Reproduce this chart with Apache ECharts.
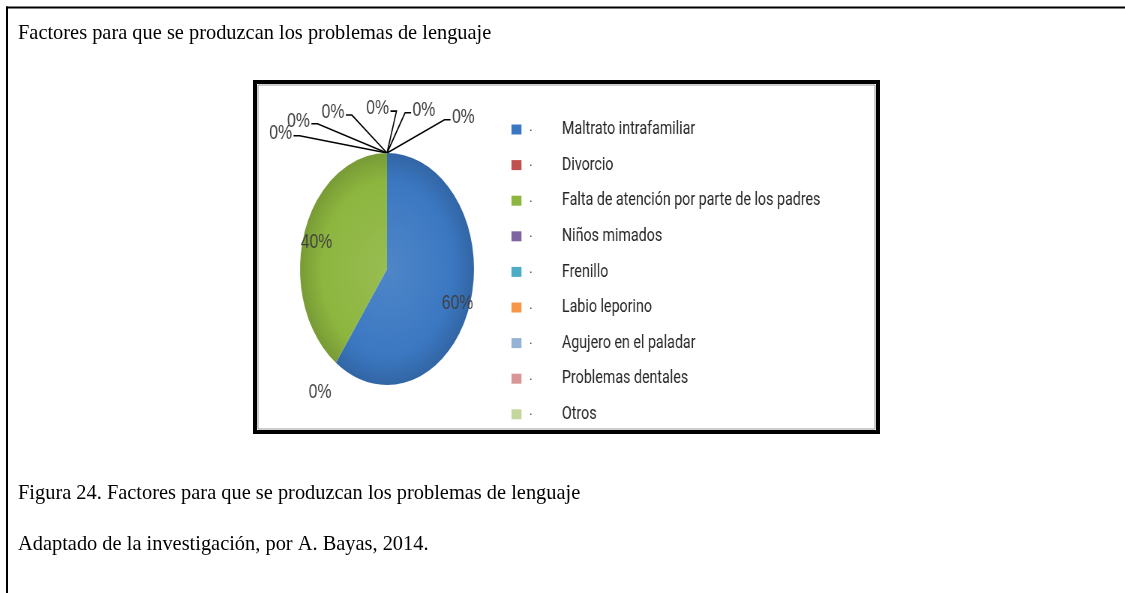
<!DOCTYPE html>
<html>
<head>
<meta charset="utf-8">
<script src="https://cdn.jsdelivr.net/npm/echarts@6/dist/echarts.min.js"></script>
<style>
  html, body { margin: 0; padding: 0; background: #fff; }
  #main { position: absolute; left: 0; top: 0; width: 1125px; height: 593px; }
  /* the original is an Excel 3D pie drawn as an ellipse with narrow (Calibri) text:
     squeeze the whole chart box horizontally */
  #box { position: absolute; left: 258px; top: 84px; width: 824px; height: 346px;
         transform: scaleX(0.75); transform-origin: 0 0; }
</style>
</head>
<body>
<div id="main"></div>
<div id="box"></div>
<script>
// data
const factores = [
  'Maltrato intrafamiliar',
  'Divorcio',
  'Falta de atención por parte de los padres',
  'Niños mimados',
  'Frenillo',
  'Labio leporino',
  'Agujero en el paladar',
  'Problemas dentales',
  'Otros'
];
const porcentajes = [60, 0, 40, 0, 0, 0, 0, 0, 0];
const colores = ['#3B78C2', '#C0504D', '#8DB63F', '#8064A2', '#4BACC6', '#F79646', '#95B3D7', '#D99694', '#C3D69B'];

const titulo = 'Factores para que se produzcan los problemas de lenguaje';
const pieFigura = 'Figura 24. Factores para que se produzcan los problemas de lenguaje';
const fuente = 'Adaptado de la investigación, por A. Bayas, 2014.';

const serif = "'Liberation Serif', 'DejaVu Serif', serif";

// page: frame and the text lines around the chart box
const main = echarts.init(document.getElementById('main'));
main.setOption({
  animation: false,
  backgroundColor: '#fff',
  graphic: [
    { type: 'line', shape: { x1: 6, y1: 7.5, x2: 1125, y2: 7.5 }, style: { stroke: '#000', lineWidth: 2 } },
    { type: 'line', shape: { x1: 7, y1: 6.5, x2: 7, y2: 593 }, style: { stroke: '#000', lineWidth: 2 } },
    { type: 'rect', shape: { x: 255, y: 82, width: 623, height: 350 }, style: { fill: '#fff', stroke: '#000', lineWidth: 4 } },
    { type: 'rect', shape: { x: 258, y: 85, width: 617, height: 344 }, style: { fill: null, stroke: '#999', lineWidth: 1 } },
    { type: 'text', style: { x: 18, y: 34, text: titulo, font: `20.4px ${serif}`, fill: '#000', verticalAlign: 'middle' } },
    { type: 'text', style: { x: 18, y: 494, text: pieFigura, font: `20.4px ${serif}`, fill: '#000', verticalAlign: 'middle' } },
    { type: 'text', style: { x: 18, y: 545, text: fuente, font: `20.4px ${serif}`, fill: '#000', verticalAlign: 'middle' } }
  ]
});

// chart box (coordinates below are in the un-squeezed space)
const cx = 172, cy = 185, R = 116;
const total = porcentajes.reduce((a, b) => a + b, 0);
let acc = 0;
const angulos = porcentajes.map((v) => {
  const a = (acc + v / 2) / total * 360;
  acc += v;
  return a;
});
// zero slices that share the same edge get their labels fanned out
const grupos = {};
porcentajes.forEach((v, i) => {
  if (v === 0) {
    const k = Math.round(angulos[i]);
    (grupos[k] = grupos[k] || []).push(i);
  }
});
const grupoDe = {};
Object.values(grupos).forEach((g) => g.forEach((i, j) => { grupoDe[i] = { n: g.length, j }; }));

function shade(hex, f) {
  const n = parseInt(hex.slice(1), 16);
  const c = [(n >> 16) & 255, (n >> 8) & 255, n & 255].map((x) =>
    Math.max(0, Math.min(255, Math.round(f > 0 ? x + (255 - x) * f : x * (1 + f)))));
  return `rgb(${c.join(',')})`;
}
function relleno(hex) {
  return {
    type: 'radial', x: cx, y: cy, r: R, global: true,
    colorStops: [
      { offset: 0, color: shade(hex, 0.1) },
      { offset: 0.75, color: hex },
      { offset: 1, color: shade(hex, -0.15) }
    ]
  };
}

const box = echarts.init(document.getElementById('box'));
box.setOption({
  animation: false,
  legend: {
    orient: 'vertical',
    left: 333,
    top: 31,
    itemWidth: 13.3,
    itemHeight: 10,
    itemGap: 16.6,
    icon: 'rect',
    selectedMode: false,
    data: factores.map((name, i) => ({ name, itemStyle: { color: colores[i] } })),
    formatter: (name) => `{dot|·}{name|${name}}`,
    textStyle: {
      rich: {
        dot: { width: 44, padding: [0, 0, 0, 5], fontSize: 15, color: '#404040', lineHeight: 20 },
        name: { fontFamily: 'Roboto, sans-serif', fontSize: 19, color: '#262626', lineHeight: 20 }
      }
    }
  },
  series: [
    {
      type: 'pie',
      center: [cx, cy],
      radius: R,
      startAngle: 90,
      clockwise: true,
      silent: true,
      percentPrecision: 0,
      data: factores.map((name, i) => ({
        name,
        value: porcentajes[i],
        itemStyle: { color: relleno(colores[i]) },
        label: { position: porcentajes[i] > 0 ? 'inside' : 'outside' },
        labelLine: { show: porcentajes[i] === 0 && grupoDe[i].n > 1 }
      })),
      label: {
        formatter: '{d}%',
        fontFamily: "'Liberation Sans', Arial, sans-serif",
        fontSize: 21,
        color: '#404040',
        overflow: 'none'
      },
      labelLine: { length: 15, length2: 15, lineStyle: { color: '#000', width: 1.6 } },
      labelLayout: (params) => {
        const i = params.dataIndex;
        const r = params.labelRect;
        if (porcentajes[i] > 0) {
          // inside labels sit further out than the mid radius
          const lx = r.x + r.width / 2, ly = r.y + r.height / 2;
          return { dx: (lx - cx) * 0.62, dy: (ly - cy) * 0.62 + 4 };
        }
        const a = angulos[i] * Math.PI / 180;
        const px = cx + R * Math.sin(a), py = cy - R * Math.cos(a);
        const g = grupoDe[i];
        if (g.n === 1) {
          return { x: px + 36 * Math.sin(a), y: py - 36 * Math.cos(a), align: 'center', verticalAlign: 'middle' };
        }
        const t = (-80 + g.j * 125 / (g.n - 1)) * Math.PI / 180;
        const x = px + 144 * Math.sin(t), y = py - 15 - 30 * Math.cos(t);
        const side = x < px ? 1 : -1;
        const ex = x + side * (r.width / 2 + 2), ey = y + 3;
        return {
          x, y, align: 'center', verticalAlign: 'middle',
          labelLinePoints: [[px, py], [ex + side * 8, ey], [ex, ey]]
        };
      }
    }
  ]
});
</script>
</body>
</html>
